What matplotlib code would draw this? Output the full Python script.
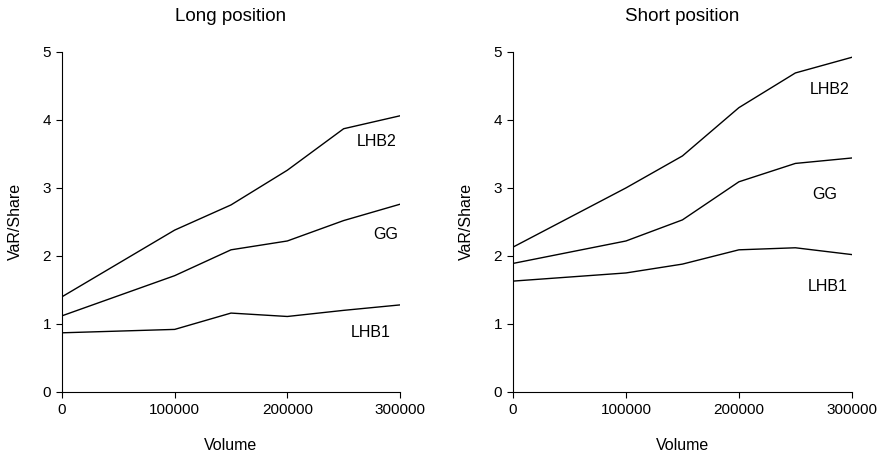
import matplotlib
matplotlib.use("Agg")
import matplotlib.pyplot as plt

plt.rcParams['font.family'] = ['Liberation Sans', 'DejaVu Sans']

volume = [0, 100000, 150000, 200000, 250000, 300000]

long_lhb2 = [1.40, 2.38, 2.75, 3.26, 3.87, 4.06]
long_gg = [1.12, 1.71, 2.09, 2.22, 2.52, 2.76]
long_lhb1 = [0.87, 0.92, 1.16, 1.11, 1.20, 1.28]

short_lhb2 = [2.13, 3.00, 3.47, 4.18, 4.69, 4.92]
short_gg = [1.89, 2.22, 2.53, 3.09, 3.36, 3.44]
short_lhb1 = [1.63, 1.75, 1.88, 2.09, 2.12, 2.02]

series_names = ["LHB2", "GG", "LHB1"]
long_label_pos = [(279600, 3.68), (287500, 2.31), (274000, 0.87)]
short_label_pos = [(280500, 4.45), (276000, 2.91), (278700, 1.55)]

xticks = [0, 100000, 200000, 300000]
yticks = [0, 1, 2, 3, 4, 5]

fig = plt.figure(figsize=(8.8, 4.59), dpi=100)
ax1 = fig.add_axes([0.0705, 0.146, 0.384, 0.741])
ax2 = fig.add_axes([0.583, 0.146, 0.385, 0.741])

panels = [
    (ax1, "Long position", [long_lhb2, long_gg, long_lhb1], long_label_pos),
    (ax2, "Short position", [short_lhb2, short_gg, short_lhb1], short_label_pos),
]

for ax, title, data, lpos in panels:
    for vals in data:
        ax.plot(volume, vals, color='black', linewidth=1.0)
    for name, (lx, ly) in zip(series_names, lpos):
        ax.text(lx, ly, name, ha='center', va='center', fontsize=11.5)
    ax.set_xlim(0, 300000)
    ax.set_ylim(0, 5)
    ax.set_xticks(xticks)
    ax.set_xticklabels([str(t) for t in xticks])
    ax.set_yticks(yticks)
    ax.spines['top'].set_visible(False)
    ax.spines['right'].set_visible(False)
    ax.spines['left'].set_linewidth(0.8)
    ax.spines['bottom'].set_linewidth(0.8)
    ax.tick_params(direction='out', length=4, width=0.8, labelsize=11, pad=4)
    ax.set_title(title, fontsize=13.5, pad=22)
    ax.set_xlabel("Volume", fontsize=11.5, labelpad=15)
    ax.set_ylabel("VaR/Share", fontsize=11.5, labelpad=14)

fig.savefig("out.png", dpi=100)
